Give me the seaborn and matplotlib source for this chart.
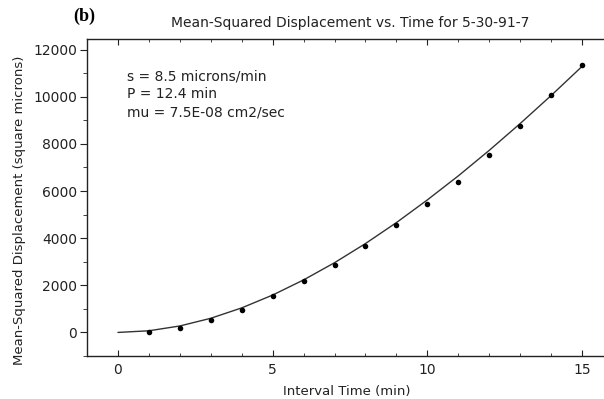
#!/usr/bin/env python3
"""Mean-squared displacement vs interval time, points plus fitted curve."""

import pandas as pd
import matplotlib.pyplot as plt
from matplotlib.ticker import MultipleLocator
import seaborn as sns

interval_min = [1, 2, 3, 4, 5, 6, 7, 8, 9, 10, 11, 12, 13, 14, 15]
msd_points = [0, 180, 510, 965, 1530, 2170, 2880, 3660, 4550,
              5460, 6400, 7530, 8750, 10080, 11360]

# fitted curve, read at each minute
fit_time = [0, 1, 2, 3, 4, 5, 6, 7, 8, 9, 10, 11, 12, 13, 14, 15]
fit_msd = [0, 70, 274, 600, 1041, 1586, 2228, 2958, 3771, 4660,
           5623, 6642, 7725, 8863, 10051, 11287]

fit_text = ["s = 8.5 microns/min", "P = 12.4 min", "mu = 7.5E-08 cm2/sec"]

INK = "#222222"


def main():
    sns.set_style("ticks")
    plt.rcParams["font.family"] = ["DejaVu Sans"]
    plt.rcParams["text.color"] = INK
    plt.rcParams["axes.labelcolor"] = INK
    plt.rcParams["xtick.color"] = INK
    plt.rcParams["ytick.color"] = INK

    pts = pd.DataFrame({"t": interval_min, "msd": msd_points})
    fit = pd.DataFrame({"t": fit_time, "msd": fit_msd})

    fig = plt.figure(figsize=(6.04, 3.99), dpi=100)
    # axes runs past the right edge of the figure, as in the scan
    ax = fig.add_axes([87 / 604, 43 / 399, 526 / 604, 317 / 399])

    sns.lineplot(data=fit, x="t", y="msd", ax=ax, color="#333333", linewidth=1.0)
    sns.scatterplot(data=pts, x="t", y="msd", ax=ax, color="black", s=16,
                    edgecolor="black", linewidth=0, zorder=3)

    ax.set_xlim(-1, 16)
    ax.set_ylim(-1000, 12450)
    ax.xaxis.set_major_locator(MultipleLocator(5))
    ax.xaxis.set_minor_locator(MultipleLocator(1))
    ax.yaxis.set_major_locator(MultipleLocator(2000))
    ax.yaxis.set_minor_locator(MultipleLocator(1000))

    for side in ["left", "bottom", "top"]:
        ax.spines[side].set_color(INK)
        ax.spines[side].set_linewidth(1.0)
    ax.spines["right"].set_visible(False)

    ax.tick_params(axis="x", which="both", direction="in", top=True,
                   bottom=True, labelsize=10, pad=5, color=INK)
    ax.tick_params(axis="x", which="major", length=4)
    ax.tick_params(axis="x", which="minor", length=2.5)
    ax.tick_params(axis="y", which="both", direction="out", labelsize=10,
                   pad=2, color=INK)
    ax.tick_params(axis="y", which="major", length=5)
    ax.tick_params(axis="y", which="minor", length=3)

    ax.set_xlabel("")
    fig.text(347 / 604, 1 - 391 / 399, "Interval Time (min)",
             ha="center", va="center", fontsize=9.5)
    ax.set_ylabel("")
    fig.text(20 / 604, 1 - 210 / 399,
             "Mean-Squared Displacement (square microns)",
             rotation=90, ha="center", va="center", fontsize=9.5)

    ax.set_title("Mean-Squared Displacement vs. Time for 5-30-91-7",
                 fontsize=10, pad=9)
    fig.text(73 / 604, 1 - 16 / 399, "(b)", ha="left", va="center",
             fontsize=13, fontweight="bold", family="Liberation Serif",
             color="black")

    for i, line in enumerate(fit_text):
        fig.text(127 / 604, 1 - (77 + 17.5 * i) / 399, line,
                 ha="left", va="center", fontsize=10)

    fig.savefig("out.png", dpi=100, facecolor="white")


if __name__ == "__main__":
    main()
